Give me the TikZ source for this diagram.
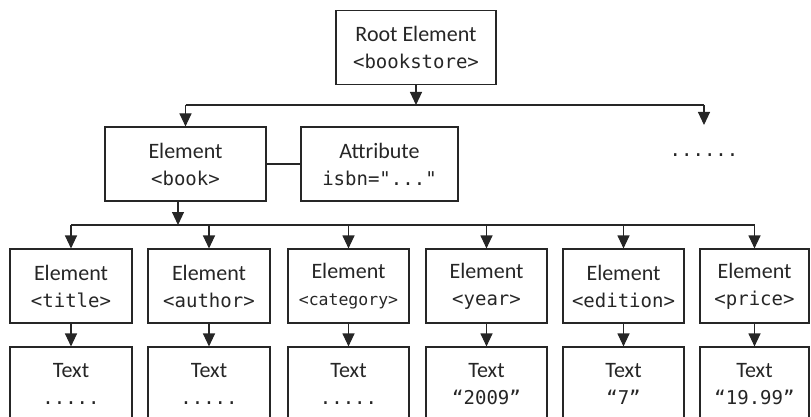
\documentclass[tikz,border=0pt]{standalone}
\usepackage{fontspec}
\setmainfont{Carlito}
\setmonofont{DejaVu Sans Mono}
\usetikzlibrary{positioning}
\usetikzlibrary{arrows.meta}
\usetikzlibrary{calc}

\newcommand{\code}[2][19]{{\ttfamily\fontsize{#1}{27}\selectfont #2}}

\tikzset{
    elem/.style={draw=black!85, text=black!85, line width=1.1pt, inner sep=0pt,
        align=center, minimum height=74pt, font=\fontsize{22}{27}\selectfont},
    link/.style={draw=black!85, line width=1.1pt},
    arr/.style={link, -{Triangle[length=13pt,width=12pt]}}
}

\begin{document}
\begin{tikzpicture}[x=1pt, y=-1pt]
        \useasboundingbox (0,0) rectangle (811,417);
        \clip (0,0) rectangle (811,417);

        % top two levels
        \node[elem, minimum width=160pt] (root) at (416,47.5)
            {Root Element\\\code{<bookstore>}};
        \node[elem, minimum width=161pt] (book) at (185.5,164)
            {Element\\\code{<book>}};
        \node[elem, minimum width=157pt] (isbn) at (379.5,164)
            {Attribute\\\code{isbn="..."}};
        \node[text=black!85] (more) at (704,155) {\code{......}};

        % children of book
        \node[elem, minimum width=122pt] (title) at (71,286)
            {Element\\\code{<title>}};
        \node[elem, minimum width=122pt] (author) at (209,286)
            {Element\\\code{<author>}};
        \node[elem, minimum width=121pt] (category) at (348.5,286)
            {Element\\\code[16.5]{<category>}};
        \node[elem, minimum width=121pt] (year) at (486.5,286)
            {Element\\\code{<year>}};
        \node[elem, minimum width=121pt] (edition) at (623.5,286)
            {Element\\\code{<edition>}};
        \node[elem, minimum width=109pt] (price) at (754.5,286)
            {Element\\\code{<price>}};

        % text content
        \node[elem, minimum width=122pt] (titleT) at (71,384)
            {Text\\\code{.....}};
        \node[elem, minimum width=122pt] (authorT) at (209,384)
            {Text\\\code{.....}};
        \node[elem, minimum width=121pt] (categoryT) at (348.5,384)
            {Text\\\code{.....}};
        \node[elem, minimum width=121pt] (yearT) at (486.5,384)
            {Text\\\code{“2009”}};
        \node[elem, minimum width=121pt] (editionT) at (623.5,384)
            {Text\\\code{“7”}};
        \node[elem, minimum width=109pt] (priceT) at (754.5,384)
            {Text\\\code{“19.99”}};

        % connectors
        \coordinate (hub) at (416,105);
        \coordinate (moreTip) at (704,125);
        \coordinate (bus) at (178,225);
        \draw[arr] (root.south) -- (hub);
        \draw[link] (book.north |- hub) -- (moreTip |- hub);
        \draw[arr] (book.north |- hub) -- (book.north);
        \draw[arr] (moreTip |- hub) -- (moreTip);
        \draw[link] (book.east) -- (isbn.west);
        \draw[arr] (bus |- book.south) -- (bus);
        \draw[link] (title.north |- bus) -- (price.north |- bus);
        \foreach \e in {title,author,category,year,edition,price}{
            \draw[arr] (\e.north |- bus) -- (\e.north);
            \draw[arr] (\e.south) -- (\e T.north);
        }
    \end{tikzpicture}
\end{document}
